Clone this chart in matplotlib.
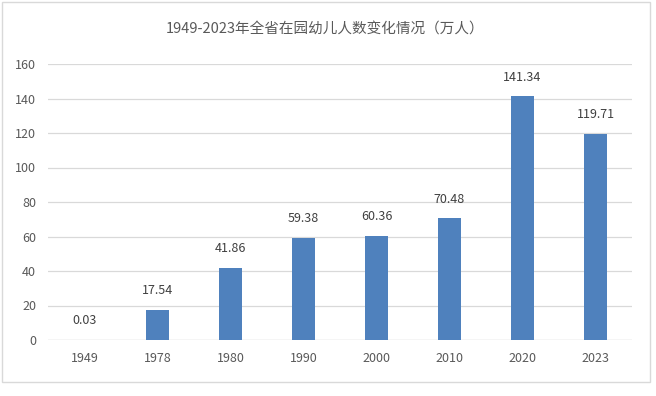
import matplotlib
matplotlib.use("Agg")
import matplotlib.pyplot as plt
from matplotlib.patches import Rectangle

plt.rcParams['font.family'] = ['Noto Sans CJK SC', 'DejaVu Sans']

years = ["1949", "1978", "1980", "1990", "2000", "2010", "2020", "2023"]
values = [0.03, 17.54, 41.86, 59.38, 60.36, 70.48, 141.34, 119.71]
labels = ["0.03", "17.54", "41.86", "59.38", "60.36", "70.48", "141.34", "119.71"]
yticks = [0, 20, 40, 60, 80, 100, 120, 140, 160]

fig = plt.figure(figsize=(6.56, 3.96), dpi=100)
ax = fig.add_axes([48/656, 1 - 340/396, (632-48)/656, (340-64)/396])

x = list(range(len(years)))
ax.bar(x, values, width=0.31, color="#4F81BD", zorder=3)
for xi, v, lab in zip(x, values, labels):
    ax.annotate(lab, (xi, v), xytext=(0, 13.7), textcoords="offset points",
                ha="center", va="center", fontsize=9, color="#404040")

ax.set_xlim(-0.5, len(years) - 0.5)
ax.set_ylim(0, 160)
ax.set_yticks(yticks)
ax.set_xticks(x)
ax.set_xticklabels(years)
ax.tick_params(axis="both", length=0, labelsize=9, colors="#595959")
ax.tick_params(axis="x", pad=9)
ax.tick_params(axis="y", pad=8.6)
ax.grid(axis="y", color="#D9D9D9", linewidth=0.9, zorder=0)
for s in ax.spines.values():
    s.set_visible(False)
ax.axhline(0, color="#D9D9D9", linewidth=0.9, zorder=2)

fig.text(325/656, 1 - 30/396, "1949-2023年全省在园幼儿人数变化情况（万人）",
         ha="center", va="center", fontsize=10.5, color="#595959")

fig.patches.append(Rectangle((2/656, 1 - 382/396), (650-2)/656, (382-2)/396,
                             transform=fig.transFigure, fill=False,
                             edgecolor="#D9D9D9", linewidth=1))

fig.savefig("out.png", dpi=100)
